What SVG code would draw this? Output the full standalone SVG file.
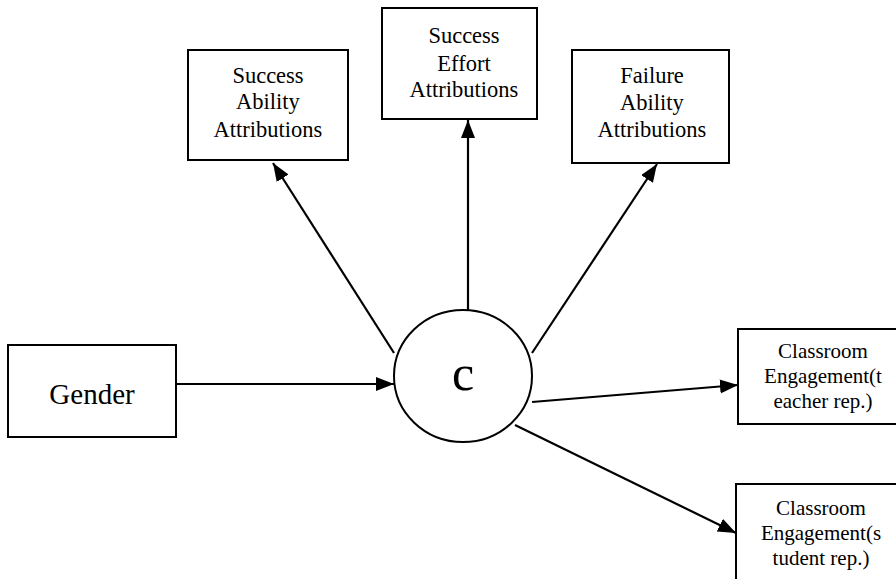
<svg xmlns="http://www.w3.org/2000/svg" width="896" height="579" viewBox="0 0 896 579">
<style>
.box{fill:#fff;stroke:#000;stroke-width:2}
text{font-family:'Liberation Serif','DejaVu Serif','Times New Roman',serif;fill:#000;text-anchor:middle}
.m{font-size:22.5px}
.s{font-size:21px}
.conn line{stroke:#000;stroke-width:2.2}
</style>
<defs>
<marker id="ah" markerUnits="userSpaceOnUse" markerWidth="20" markerHeight="16" refX="18" refY="7" orient="auto">
<path d="M0,0 L18,7 L0,14 z" fill="#000"/>
</marker>
</defs>
<rect width="896" height="579" fill="#fff"/>
<g id="success-ability">
<rect class="box" x="188" y="50" width="160" height="110"/>
<text class="m" x="268" y="83">Success</text>
<text class="m" x="268" y="109">Ability</text>
<text class="m" x="268" y="137">Attributions</text>
</g>
<g id="success-effort">
<rect class="box" x="382" y="8" width="155" height="111"/>
<text class="m" x="464" y="43">Success</text>
<text class="m" x="464" y="71">Effort</text>
<text class="m" x="464" y="97">Attributions</text>
</g>
<g id="failure-ability">
<rect class="box" x="572" y="50" width="157" height="113"/>
<text class="m" x="652" y="83">Failure</text>
<text class="m" x="652" y="110">Ability</text>
<text class="m" x="652" y="137">Attributions</text>
</g>
<g id="gender">
<rect class="box" x="8" y="345" width="168" height="92"/>
<text x="92" y="404" font-size="29">Gender</text>
</g>
<g id="c">
<ellipse class="box" cx="463" cy="376" rx="69" ry="66"/>
<text x="463" y="390" font-size="50">c</text>
</g>
<g id="engagement-teacher">
<rect class="box" x="738" y="329" width="170" height="95"/>
<text class="s" x="823" y="358">Classroom</text>
<text class="s" x="823" y="383">Engagement(t</text>
<text class="s" x="823" y="408">eacher rep.)</text>
</g>
<g id="engagement-student">
<rect class="box" x="736" y="484" width="170" height="110"/>
<text class="s" x="821" y="515">Classroom</text>
<text class="s" x="821" y="540">Engagement(s</text>
<text class="s" x="821" y="565">tudent rep.)</text>
</g>
<g class="conn" id="connectors">
<line x1="176" y1="384" x2="394" y2="384" marker-end="url(#ah)"/>
<line x1="394" y1="353" x2="273" y2="163" marker-end="url(#ah)"/>
<line x1="468" y1="310" x2="468" y2="120" marker-end="url(#ah)"/>
<line x1="532" y1="353" x2="657" y2="164" marker-end="url(#ah)"/>
<line x1="532" y1="402" x2="738" y2="385" marker-end="url(#ah)"/>
<line x1="515" y1="425" x2="736" y2="533" marker-end="url(#ah)"/>
</g>
</svg>
